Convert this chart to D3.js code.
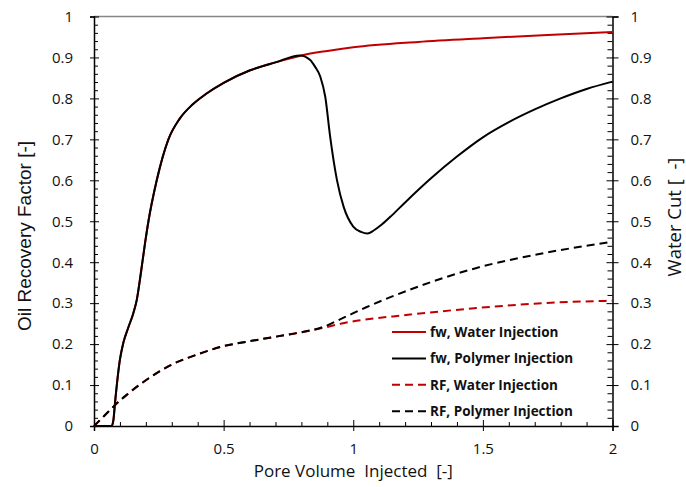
<!DOCTYPE html>
<html>
<head>
<meta charset="utf-8">
<script src="https://cdn.jsdelivr.net/npm/d3@7"></script>
<style>
    html, body { margin: 0; padding: 0; background: #fff; overflow: hidden; }
    #chart { width: 686px; height: 487px; }
    #chart svg { display: block; }
</style>
</head>
<body>
<div id="chart"></div>
<script>
// pore volume injected [-] vs value [-]
const fwWaterPV = [0, 0.068, 0.075, 0.081, 0.1, 0.113, 0.132, 0.152, 0.165, 0.18, 0.197, 0.21, 0.242, 0.287, 0.33, 0.38, 0.43, 0.5, 0.6, 0.7, 0.8, 0.9, 1.0, 1.25, 1.5, 1.75, 2.0];
const fwWater = [0, 0, 0.015, 0.056, 0.162, 0.203, 0.24, 0.276, 0.308, 0.37, 0.447, 0.5, 0.6, 0.7, 0.75, 0.785, 0.81, 0.838, 0.868, 0.888, 0.905, 0.916, 0.925, 0.938, 0.947, 0.955, 0.962];

const fwPolymerPV = [0, 0.068, 0.075, 0.081, 0.1, 0.113, 0.132, 0.152, 0.165, 0.18, 0.197, 0.21, 0.242, 0.287, 0.33, 0.38, 0.43, 0.5, 0.6, 0.7, 0.795, 0.834, 0.853, 0.873, 0.892, 0.911, 0.937, 0.963, 1.0, 1.03, 1.055, 1.08, 1.11, 1.15, 1.2, 1.3, 1.4, 1.5, 1.6, 1.7, 1.8, 1.9, 2.0];
const fwPolymer = [0, 0, 0.015, 0.056, 0.162, 0.203, 0.24, 0.276, 0.308, 0.37, 0.447, 0.5, 0.6, 0.7, 0.75, 0.785, 0.81, 0.838, 0.868, 0.888, 0.905, 0.894, 0.877, 0.853, 0.804, 0.706, 0.601, 0.535, 0.487, 0.474, 0.47, 0.478, 0.492, 0.515, 0.546, 0.605, 0.658, 0.705, 0.742, 0.773, 0.8, 0.823, 0.841];

const rfWaterPV = [0, 0.04, 0.081, 0.126, 0.21, 0.3, 0.4, 0.5, 0.6, 0.7, 0.8, 0.88, 0.961, 1.219, 1.476, 1.734, 2.0];
const rfWater = [0, 0.025, 0.051, 0.076, 0.116, 0.15, 0.175, 0.195, 0.207, 0.218, 0.229, 0.239, 0.251, 0.272, 0.288, 0.3, 0.306];

const rfPolymerPV = [0, 0.04, 0.081, 0.126, 0.21, 0.3, 0.4, 0.5, 0.6, 0.7, 0.8, 0.88, 0.961, 1.05, 1.219, 1.476, 1.734, 2.0];
const rfPolymer = [0, 0.025, 0.051, 0.076, 0.116, 0.15, 0.175, 0.195, 0.207, 0.218, 0.229, 0.241, 0.264, 0.29, 0.333, 0.386, 0.422, 0.45];

const seriesNames = ["fw, Water Injection", "fw, Polymer Injection", "RF, Water Injection", "RF, Polymer Injection"];
const xTicks = [0, 0.5, 1, 1.5, 2];
const yTicks = [0, 0.1, 0.2, 0.3, 0.4, 0.5, 0.6, 0.7, 0.8, 0.9, 1];

const seriesStyle = [
    {color: "#c00000", dash: null},
    {color: "#000000", dash: null},
    {color: "#c00000", dash: "8,5"},
    {color: "#000000", dash: "8,5"}
];

const zip = (xs, ys) => xs.map((x, i) => [x, ys[i]]);
const series = [
    zip(fwWaterPV, fwWater),
    zip(fwPolymerPV, fwPolymer),
    zip(rfWaterPV, rfWater),
    zip(rfPolymerPV, rfPolymer)
];

const width = 686, height = 487;
const margin = {top: 16.5, right: 73.5, bottom: 61, left: 94},
    innerWidth = width - margin.left - margin.right,
    innerHeight = height - margin.top - margin.bottom;

const svg = d3.select("#chart")
    .append("svg")
    .attr("width", width)
    .attr("height", height)
    .append("g")
    .attr("transform", "translate(" + margin.left + "," + margin.top + ")");

const x = d3.scaleLinear().domain([0, 2]).range([0, innerWidth]);
const y = d3.scaleLinear().domain([0, 1]).range([innerHeight, 0]);

const minorY = d3.range(0, 1.0001, 0.02).filter(v => Math.abs(v * 10 - Math.round(v * 10)) > 1e-6);
const minorX = d3.range(0, 2.0001, 0.1).filter(v => Math.abs(v * 2 - Math.round(v * 2)) > 1e-6);

// top frame line
svg.append("line")
    .attr("x1", 0).attr("x2", innerWidth)
    .attr("y1", 0).attr("y2", 0)
    .attr("stroke", "#868686")
    .attr("stroke-width", 1.5);

// minor ticks (no labels)
const stripMinor = g => {
    g.select(".domain").remove();
    g.selectAll(".tick text").remove();
};
svg.append("g")
    .call(d3.axisRight(y).tickValues(minorY).tickSize(4))
    .call(stripMinor);
svg.append("g")
    .attr("transform", "translate(" + innerWidth + ",0)")
    .call(d3.axisLeft(y).tickValues(minorY).tickSize(5))
    .call(stripMinor);
svg.append("g")
    .attr("transform", "translate(0," + innerHeight + ")")
    .call(d3.axisTop(x).tickValues(minorX).tickSize(4))
    .call(stripMinor);

// major axes
const fmt = d3.format("~g");
svg.append("g")
    .attr("class", "axis")
    .call(d3.axisLeft(y).tickValues(yTicks).tickSize(4).tickPadding(17).tickFormat(fmt))
    .call(g => g.selectAll(".tick line").attr("x1", 5));
svg.append("g")
    .attr("class", "axis")
    .attr("transform", "translate(" + innerWidth + ",0)")
    .call(d3.axisRight(y).tickValues(yTicks).tickSize(6).tickPadding(12).tickFormat(fmt))
    .call(g => g.selectAll(".tick line").attr("x1", -6));
svg.append("g")
    .attr("class", "axis")
    .attr("transform", "translate(0," + innerHeight + ")")
    .call(d3.axisBottom(x).tickValues(xTicks).tickSize(5).tickPadding(12).tickFormat(fmt))
    .call(g => g.selectAll(".tick line").attr("y1", -6));

svg.selectAll(".axis").attr("font-size", null).attr("font-family", null);
svg.selectAll(".axis .domain").attr("stroke-width", 1.5).attr("stroke", "#000");
svg.selectAll(".tick line").attr("stroke", "#000");
svg.selectAll(".axis text")
    .attr("font-family", "'Open Sans', sans-serif")
    .attr("font-size", 15)
    .attr("fill", "#111");

// lines
const line = d3.line()
    .x(d => x(d[0]))
    .y(d => y(d[1]))
    .curve(d3.curveMonotoneX);

svg.selectAll(".series")
    .data(series)
    .enter()
    .append("path")
    .attr("class", "series")
    .attr("d", line)
    .attr("fill", "none")
    .attr("stroke", (d, i) => seriesStyle[i].color)
    .attr("stroke-width", 2)
    .attr("stroke-dasharray", (d, i) => seriesStyle[i].dash);

// legend
const legend = svg.append("g")
    .attr("transform", "translate(" + (392 - margin.left) + "," + (332 - margin.top) + ")");
const item = legend.selectAll("g")
    .data(seriesNames)
    .enter()
    .append("g")
    .attr("transform", (d, i) => "translate(0," + i * 26.4 + ")");
item.append("line")
    .attr("x1", 0).attr("x2", 34)
    .attr("stroke", (d, i) => seriesStyle[i].color)
    .attr("stroke-width", 2)
    .attr("stroke-dasharray", (d, i) => seriesStyle[i].dash);
item.append("text")
    .attr("x", 38)
    .attr("y", 5)
    .attr("font-family", "'Open Sans', sans-serif")
    .attr("font-size", 13.5)
    .attr("font-weight", 700)
    .attr("fill", "#111")
    .text(d => d);

// axis titles
svg.append("text")
    .attr("x", x(1))
    .attr("y", 476.5 - margin.top)
    .attr("text-anchor", "middle")
    .attr("font-family", "'Open Sans', sans-serif")
    .attr("font-size", 17)
    .attr("fill", "#111")
    .style("white-space", "pre")
    .text("Pore Volume  Injected  [-]");

svg.append("text")
    .attr("transform", "translate(" + (31 - margin.left) + "," + (236 - margin.top) + ")rotate(-90)")
    .attr("text-anchor", "middle")
    .attr("font-family", "'Liberation Sans', Arial, sans-serif")
    .attr("font-size", 19)
    .attr("fill", "#111")
    .text("Oil Recovery Factor [-]");

svg.append("text")
    .attr("transform", "translate(" + (681 - margin.left) + "," + (217 - margin.top) + ")rotate(-90)")
    .attr("text-anchor", "middle")
    .attr("font-family", "'Open Sans', sans-serif")
    .attr("font-size", 18.5)
    .attr("fill", "#111")
    .style("white-space", "pre")
    .text("Water Cut [  -]");
</script>
</body>
</html>
